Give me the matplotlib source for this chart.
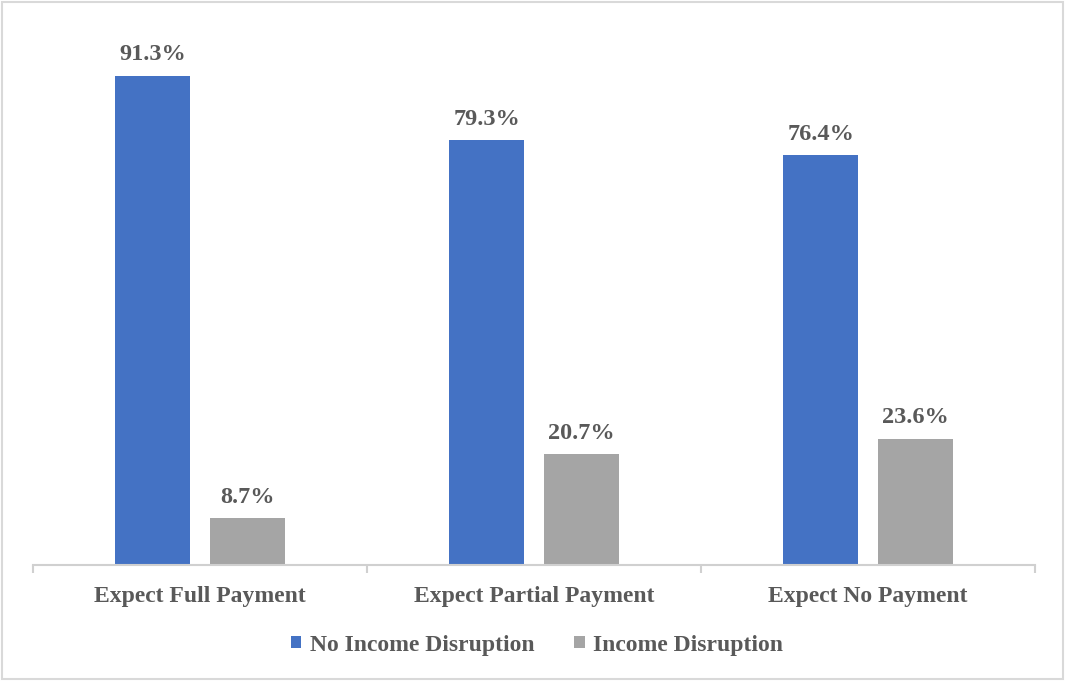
import matplotlib
matplotlib.use("Agg")
import matplotlib.pyplot as plt
import numpy as np
from matplotlib.patches import Rectangle

categories = ["Expect Full Payment", "Expect Partial Payment", "Expect No Payment"]
series_names = ["No Income Disruption", "Income Disruption"]
no_disruption = [91.3, 79.3, 76.4]
disruption = [8.7, 20.7, 23.6]

blue = "#4472C4"
grey = "#A5A5A5"
text_col = "#595959"
font = "Liberation Serif"

W, H = 1065, 681
fig = plt.figure(figsize=(W / 100, H / 100), dpi=100)
fig.patch.set_facecolor("white")

# plot area in pixel coordinates
x0, x1 = 33, 1035
y_axis, y_top = 565, 29
ax = fig.add_axes([x0 / W, 1 - y_axis / H, (x1 - x0) / W, (y_axis - y_top) / H])

x = np.arange(len(categories))
width = 0.224
offset = 0.142

b1 = ax.bar(x - offset, no_disruption, width, color=blue, label=series_names[0])
b2 = ax.bar(x + offset, disruption, width, color=grey, label=series_names[1])

for bars, vals in ((b1, no_disruption), (b2, disruption)):
    for rect, v in zip(bars, vals):
        ax.annotate(f"{v:.1f}%", (rect.get_x() + rect.get_width() / 2, v),
                    xytext=(0, 7.5), textcoords="offset points",
                    ha="center", va="bottom", fontsize=17.5, fontweight="bold",
                    family=font, color=text_col)

ax.set_xlim(-0.5, len(categories) - 0.5)
ax.set_ylim(0, 100)
ax.set_yticks([])
for s in ("top", "right", "left"):
    ax.spines[s].set_visible(False)
ax.spines["bottom"].set_color("#D0D0D0")
ax.spines["bottom"].set_linewidth(1.5)

# category separators as minor ticks, labels at category centres
ax.set_xticks(x)
ax.set_xticklabels(categories, fontsize=17, fontweight="bold", family=font, color=text_col)
ax.tick_params(axis="x", which="major", length=0, pad=15)
ax.set_xticks(np.arange(len(categories) + 1) - 0.5, minor=True)
ax.tick_params(axis="x", which="minor", length=6, width=1.5, color="#D0D0D0")

leg = fig.legend(handles=[b1, b2], labels=series_names, loc="center",
                 bbox_to_anchor=(537 / W, 1 - 645 / H), ncol=2, frameon=False,
                 handlelength=0.45, handleheight=0.45, handletextpad=0.35,
                 columnspacing=1.7,
                 prop={"family": font, "weight": "bold", "size": 17})
for t in leg.get_texts():
    t.set_color(text_col)

# outer chart border
fig.patches.append(Rectangle((2 / W, 2 / H), (W - 4) / W, (H - 4) / H,
                             transform=fig.transFigure, fill=False,
                             edgecolor="#D9D9D9", linewidth=1.5))

fig.savefig("out.png", dpi=100, facecolor="white")
